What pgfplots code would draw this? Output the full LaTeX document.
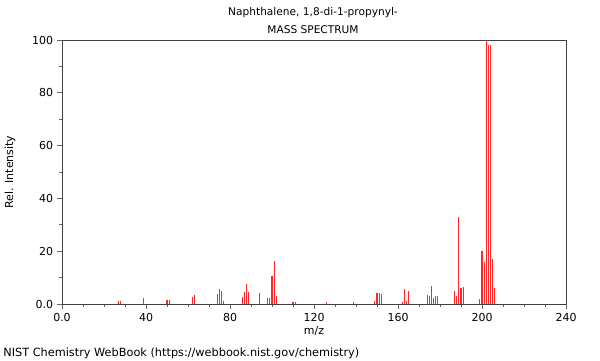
\documentclass[border=0pt]{standalone}
\usepackage{fontspec}
\setmainfont{DejaVu Sans}
\usepackage{pgfplots}
\pgfplotsset{compat=1.18}
\begin{document}
\fontsize{11bp}{13bp}\selectfont
\begin{tikzpicture}[x=1bp,y=1bp]
\useasboundingbox (0,0) rectangle (600,360);
\begin{axis}[
  at={(62bp,56bp)}, anchor=south west,
  width=504bp, height=264bp, scale only axis,
  xmin=0, xmax=240, ymin=0, ymax=100,
  xtick={0,40,80,120,160,200,240},
  xticklabels={0.0,40,80,120,160,200,240},
  ytick={0,20,40,60,80,100},
  yticklabels={0.0,20,40,60,80,100},
  minor x tick num=3, minor y tick num=1,
  tick pos=left, tick align=outside,
  major tick length=5bp, minor tick length=3bp,
  axis line style={draw=black!75, line width=0.9bp},
  every tick/.style={draw=black!60, line width=0.9bp},
  /pgf/number format/assume math mode=true,
  ticklabel style={font=\fontsize{11bp}{13bp}\selectfont},
  xticklabel style={yshift=-0.5bp},
  clip=false,
]
\addplot[ycomb, no marks, draw={rgb,255:red,255;green,40;blue,40}, line width=1.1bp] coordinates {
(27,1.0) (28,1.0) (39,2.4) (50,1.4) (51,1.4) (62,2.8) (63,3.5)
(74,3.8) (75,5.8) (76,4.8) (77,1.2)
(86,2.5) (87,4.7) (88,7.7) (89,4.7) (94,4.2)
(98,2.1) (99,2.1) (100,10.7) (101,16.2) (102,3.2)
(110,0.8) (111,0.8) (126,0.6) (139,0.7)
(149,1.3) (150,4.2) (151,4.2) (152,3.9)
(162,0.8) (163,5.8) (164,1.3) (165,4.8)
(174,3.4) (175,2.9) (176,6.9) (177,2.4) (178,2.9) (179,2.9)
(187,4.9) (188,2.9) (189,33.1) (190,5.9) (191,6.4)
(199,1.9) (200,20.0) (201,16.0) (202,100) (203,98.2) (204,98.2) (205,16.9) (206,5.9)
};
\end{axis}
\node[font=\fontsize{10.6bp}{13bp}\selectfont] at (313,347) {Naphthalene, 1,8-di-1-propynyl-};
\node[font=\fontsize{10.6bp}{13bp}\selectfont] at (313,330) {MASS SPECTRUM};
\node[font=\fontsize{11bp}{13bp}\selectfont] at (314,29) {m/z};
\node[font=\fontsize{11bp}{13bp}\selectfont, rotate=90] at (10,188) {Rel. Intensity};
\node[font=\fontsize{11.3bp}{13bp}\selectfont, anchor=west] at (-0.5,7) {NIST Chemistry WebBook (https://webbook.nist.gov/chemistry)};
\end{tikzpicture}
\end{document}
